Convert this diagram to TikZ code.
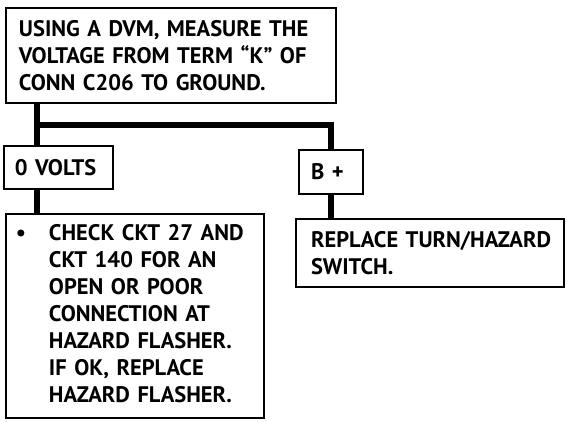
\documentclass[tikz,border=0pt]{standalone}
\usepackage{fontspec}
\setmainfont{PT Sans}
\newlength{\du}
\setlength{\du}{1pt}
\tikzset{
  box/.style={draw, line width=2\du, anchor=north west, inner ysep=0pt,
    align=left, font=\bfseries\fontsize{22.5}{27}\selectfont},
  link/.style={line width=6\du},
}

\begin{document}
\begin{tikzpicture}[x=1\du, y=-1\du]
\useasboundingbox (0,0) rectangle (576,422);
% question
\node[box, inner xsep=13\du, text width=304\du, minimum height=95\du] (measure) at (5,7)
  {USING A DVM, MEASURE THE\\VOLTAGE FROM TERM ``K'' OF\\CONN C206 TO GROUND.};
% answers
\node[box, inner xsep=11\du, text width=87\du, minimum height=43\du] (zerovolts) at (3,145) {0 VOLTS};
\node[box, inner xsep=12\du, text width=40\du, minimum height=44\du] (bplus) at (298,149) {B +};
% actions
\node[box, inner xsep=10\du, text width=238\du, minimum height=204\du] (checkckt) at (5,213)
  {\begin{tabular}{@{}p{33\du}@{}l@{}}
   \textbullet & CHECK CKT 27 AND\\
   & CKT 140 FOR AN\\
   & OPEN OR POOR\\
   & CONNECTION AT\\
   & HAZARD FLASHER.\\
   & IF OK, REPLACE\\
   & HAZARD FLASHER.
   \end{tabular}};
\node[box, inner xsep=15\du, text width=238\du, minimum height=68\du] (replsw) at (295,218)
  {\mbox{REPLACE TURN/HAZARD}\\SWITCH.};
% connectors
\coordinate (spine) at (37,0);
\coordinate (fork) at (37,125);
\draw[link] (measure.south -| spine) -- (zerovolts.north -| spine);
\draw[link] (fork) -| (bplus.north);
\draw[link] (zerovolts.south -| spine) -- (checkckt.north -| spine);
\draw[link] (bplus.south) -- (replsw.north -| bplus.south);
\end{tikzpicture}
\end{document}
